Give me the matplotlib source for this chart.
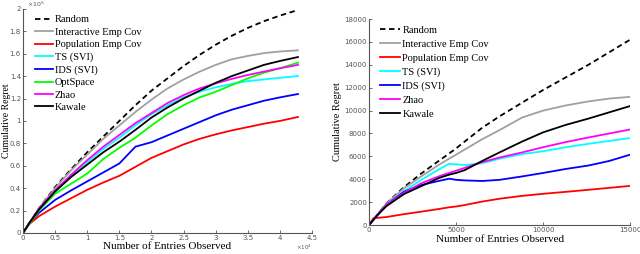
import matplotlib.pyplot as plt
from matplotlib.ticker import FuncFormatter

# ---- left panel data (entries observed, cumulative regret) ----
x_left = [0, 1000, 2500, 5000, 7500, 10000, 12500, 15000, 17500, 20000, 22500,
          25000, 27500, 30000, 32500, 35000, 37500, 40000, 42800]
random_l = [0, 9000, 22000, 41000, 57000, 72000, 86000, 100000, 114000, 127000, 138000,
            149000, 159000, 168000, 176000, 183000, 189000, 194000, 199000]
interactive_l = [0, 9000, 22000, 40000, 56000, 70000, 84000, 96000, 108000, 119000, 129000,
                 137000, 144000, 150000, 155000, 158000, 160500, 162000, 163000]
population_l = [0, 8000, 15000, 23500, 31000, 38500, 45000, 51000, 59000, 67000, 73000,
                79000, 84000, 88000, 91500, 94500, 97500, 100000, 103500]
ts_l = [0, 9000, 21000, 37000, 51000, 63000, 75000, 85000, 96000, 106000, 114000,
        121000, 126000, 130000, 133000, 135500, 137000, 138500, 140000]
ids_l = [0, 9000, 18000, 29500, 38000, 46000, 54000, 62000, 77000, 81000, 87000,
         93000, 99000, 105000, 110000, 114000, 118000, 121000, 124000]
optspace_l = [0, 8000, 20000, 35000, 44000, 53000, 66000, 76000, 85000, 96000, 106000,
              114000, 121000, 126000, 132000, 138000, 143000, 147000, 152000]
zhao_l = [0, 9000, 22000, 38000, 52000, 65000, 77000, 87500, 98000, 107000, 116000,
          123000, 129000, 133500, 137500, 141000, 144000, 147000, 150000]
kawale_l = [0, 9000, 21000, 37000, 50000, 61000, 72000, 81500, 92000, 103000, 112000,
            120000, 127000, 134000, 140000, 145000, 150000, 153500, 157000]

# ---- right panel data ----
x_right = [0, 250, 500, 1000, 2000, 3000, 4000, 4600, 5000, 5500, 6500, 7500,
           8800, 10000, 11300, 12600, 13800, 15000]
random_r = [0, 480, 950, 1900, 3300, 4500, 5600, 6250, 6700, 7300, 8500, 9500,
            10700, 11800, 12900, 14000, 15100, 16200]
interactive_r = [0, 480, 950, 1880, 3200, 4250, 5250, 5800, 6150, 6600, 7500, 8300,
                 9400, 10000, 10450, 10800, 11050, 11200]
population_r = [0, 600, 630, 700, 950, 1170, 1400, 1550, 1620, 1750, 2050, 2300,
                2550, 2730, 2900, 3080, 3250, 3420]
ts_r = [0, 450, 900, 1750, 2950, 3950, 4850, 5350, 5300, 5250, 5400, 5800,
        6200, 6450, 6800, 7100, 7350, 7600]
ids_r = [0, 450, 900, 1750, 2900, 3500, 3850, 4050, 3950, 3900, 3850, 3950,
         4250, 4550, 4900, 5200, 5600, 6150]
zhao_r = [0, 450, 900, 1750, 2800, 3650, 4250, 4550, 4750, 5000, 5500, 5900,
          6350, 6800, 7250, 7650, 8000, 8350]
kawale_r = [0, 450, 900, 1650, 2700, 3400, 4100, 4400, 4550, 4800, 5600, 6350,
            7300, 8100, 8750, 9300, 9850, 10400]

serif = "Liberation Serif"

fig = plt.figure(figsize=(6.4, 2.54), dpi=100)
ax1 = fig.add_axes([0.036, 0.083, 0.4516, 0.882])
ax2 = fig.add_axes([0.5766, 0.114, 0.408, 0.811])

lw = 1.3
styles = [
    ("Random", "black", "--"),
    ("Interactive Emp Cov", "#a0a0a0", "-"),
    ("Population Emp Cov", "red", "-"),
    ("TS (SVI)", "cyan", "-"),
    ("IDS (SVI)", "blue", "-"),
    ("OptSpace", "#00ff00", "-"),
    ("Zhao", "magenta", "-"),
    ("Kawale", "black", "-"),
]

left_series = [random_l, interactive_l, population_l, ts_l, ids_l, optspace_l, zhao_l, kawale_l]
for (name, color, ls), ys in zip(styles, left_series):
    ax1.plot(x_left, ys, color=color, ls=ls, lw=lw, label=name,
             dashes=(3, 2) if ls == "--" else (None, None))

right_series = [random_r, interactive_r, population_r, ts_r, ids_r, None, zhao_r, kawale_r]
for (name, color, ls), ys in zip(styles, right_series):
    if ys is None:
        continue
    ax2.plot(x_right, ys, color=color, ls=ls, lw=lw, label=name,
             dashes=(3, 2) if ls == "--" else (None, None))

# left axes
ax1.set_xlim(0, 45000)
ax1.set_ylim(0, 200000)
ax1.set_xticks([i * 5000 for i in range(10)])
ax1.set_yticks([i * 20000 for i in range(11)])
ax1.xaxis.set_major_formatter(FuncFormatter(lambda v, _: f"{v / 1e4:g}"))
ax1.yaxis.set_major_formatter(FuncFormatter(lambda v, _: f"{v / 1e5:g}"))
ax1.text(0.012, 1.0, r"$\times10^5$", transform=ax1.transAxes, fontsize=4.5,
         ha="left", va="bottom", color="#555555")
ax1.text(1.0, -0.045, r"$\times10^4$", transform=ax1.transAxes, fontsize=4,
         ha="right", va="top", color="#555555")

# right axes
ax2.set_xlim(0, 15000)
ax2.set_ylim(0, 18000)
ax2.set_xticks([0, 5000, 10000, 15000])
ax2.set_yticks([i * 2000 for i in range(10)])

for ax in (ax1, ax2):
    ax.spines["top"].set_visible(False)
    ax.spines["right"].set_visible(False)
    ax.spines["left"].set_color("#555555")
    ax.spines["bottom"].set_color("#555555")
    ax.tick_params(direction="in", length=2, width=0.6, labelsize=5,
                   colors="#555555", pad=1.5)
    ax.set_xlabel("Number of Entries Observed", family=serif, fontsize=8, labelpad=1)
    ax.set_ylabel("Cumulative Regret", family=serif, fontsize=7.5, labelpad=2)

ax1.yaxis.label.set_fontsize(7)
ax1.yaxis.set_label_coords(-0.043, 0.5)

leg1 = ax1.legend(loc="upper left", frameon=False, prop={"family": serif, "size": 7.5},
                  handlelength=1.7, handletextpad=0.2, labelspacing=0.3,
                  borderaxespad=0.2, bbox_to_anchor=(0.02, 1.0))
leg2 = ax2.legend(loc="upper left", frameon=False, prop={"family": serif, "size": 7.5},
                  handlelength=1.9, handletextpad=0.2, labelspacing=0.45,
                  borderaxespad=0.2, bbox_to_anchor=(0.02, 1.0))

fig.savefig("out.png", dpi=100)
